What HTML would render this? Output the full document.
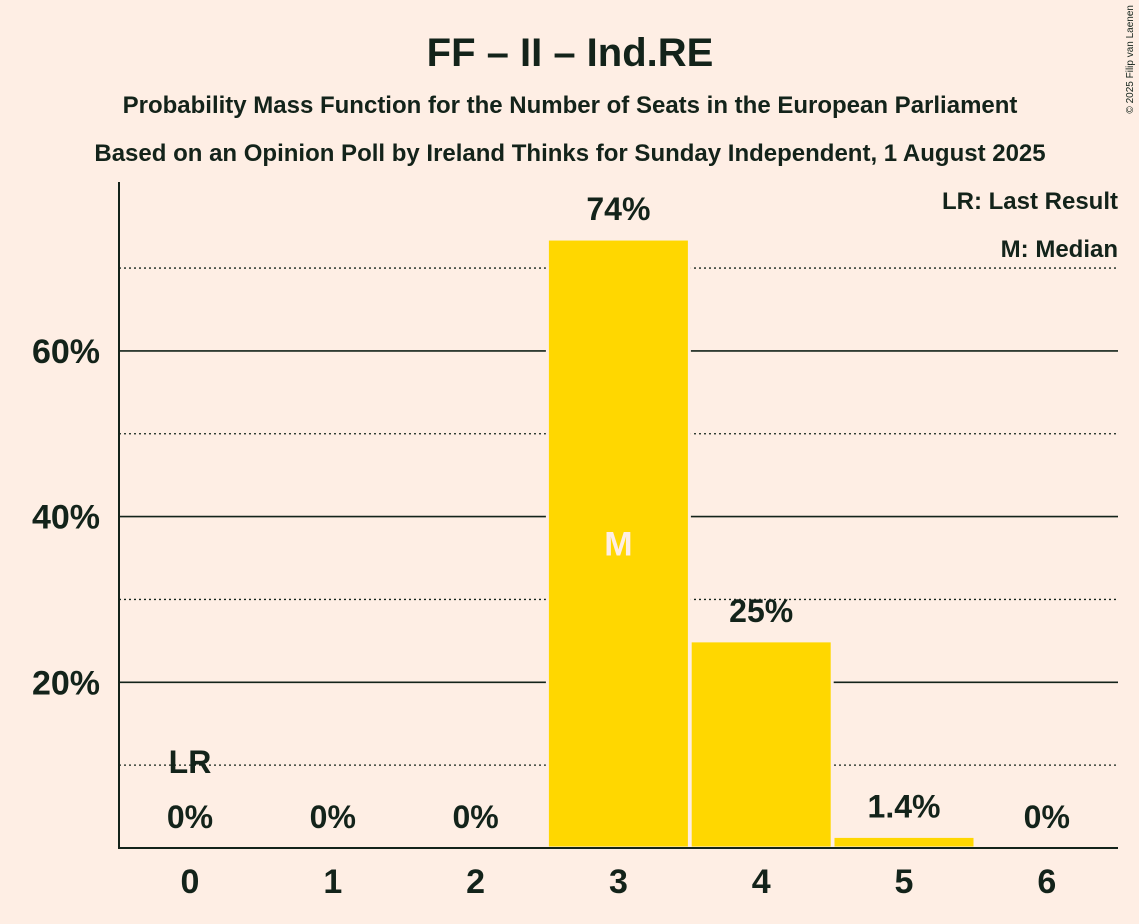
<!DOCTYPE html>
<html><head><meta charset="utf-8"><style>
body{margin:0;background:#FEEEE4;}
svg{display:block;font-family:"Liberation Sans",sans-serif;}
</style></head><body>
<svg id="c" width="1139" height="924">
<rect width="1139" height="924" fill="#FEEEE4"/>
<text x="570" y="66" text-anchor="middle" font-size="40" font-weight="bold" fill="#13231a">FF – II – Ind.RE</text>
<text x="570" y="113" text-anchor="middle" font-size="24" font-weight="bold" fill="#13231a">Probability Mass Function for the Number of Seats in the European Parliament</text>
<text x="570" y="161" text-anchor="middle" font-size="24" font-weight="bold" fill="#13231a">Based on an Opinion Poll by Ireland Thinks for Sunday Independent, 1 August 2025</text>
<text x="1133" y="5" transform="rotate(-90 1133 5)" text-anchor="end" font-size="10" fill="#13231a">© 2025 Filip van Laenen</text>
<text x="1118" y="209" text-anchor="end" font-size="24" font-weight="bold" fill="#13231a">LR: Last Result</text>
<text x="1118" y="257" text-anchor="end" font-size="24" font-weight="bold" fill="#13231a">M: Median</text>
<g id="grid"></g><g id="bars"></g><g id="labels"></g>
<line x1="119" y1="182" x2="119" y2="849" stroke="#13231a" stroke-width="2"/>
<line x1="118" y1="848" x2="1118" y2="848" stroke="#13231a" stroke-width="2"/>
</svg>
<script>
const categories=[0,1,2,3,4,5,6];
const values=[0,0,0,73.5,25,1.4,0];
const valueLabels=["0%","0%","0%","74%","25%","1.4%","0%"];
const yTicks=[20,40,60];
const yMinor=[10,30,50,70];
const lastResult=0;
const median=3;
const NS="http://www.w3.org/2000/svg";
const x=c=>190+c*142.8;
const y=v=>848-v*8.285;
const bw=142;
function mk(t,a,p){const e=document.createElementNS(NS,t);for(const k in a)e.setAttribute(k,a[k]);document.getElementById(p).appendChild(e);return e;}
yMinor.forEach(v=>{const l=mk('line',{x1:119,x2:1118,y1:y(v),y2:y(v),stroke:'#13231a','stroke-width':1.3,'stroke-dasharray':'2,3'},'grid');

});
yTicks.forEach(v=>{const l=mk('line',{x1:119,x2:1118,y1:y(v),y2:y(v),stroke:'#13231a','stroke-width':1.6},'grid');


const t=mk('text',{x:100,y:y(v)+12,'text-anchor':'end','font-size':34,'font-weight':'bold',fill:'#13231a'},'grid');t.textContent=v+'%';

});
categories.forEach((c,i)=>{
if(values[i]>0){const r=mk('rect',{x:x(c)-bw/2,y:y(values[i]),width:bw,height:848-y(values[i]),fill:'#FFD700',stroke:'#FEEEE4','stroke-width':3},'bars');

}
const ly=values[i]>0?y(values[i])-19:828;
const t=mk('text',{x:x(c),y:ly,'text-anchor':'middle','font-size':32,'font-weight':'bold',fill:'#13231a'},'labels');t.textContent=valueLabels[i];


const xt=mk('text',{x:x(c),y:893,'text-anchor':'middle','font-size':34,'font-weight':'bold',fill:'#13231a'},'labels');xt.textContent=c;


if(c===lastResult){const l=mk('text',{x:x(c),y:773,'text-anchor':'middle','font-size':32,'font-weight':'bold',fill:'#13231a'},'labels');l.textContent='LR';

}
if(c===median){const m=mk('text',{x:x(c),y:y(values[i]/2)+12,'text-anchor':'middle','font-size':34,'font-weight':'bold',fill:'#FEEEE4'},'labels');m.textContent='M';

}
});
</script>
</body></html>
